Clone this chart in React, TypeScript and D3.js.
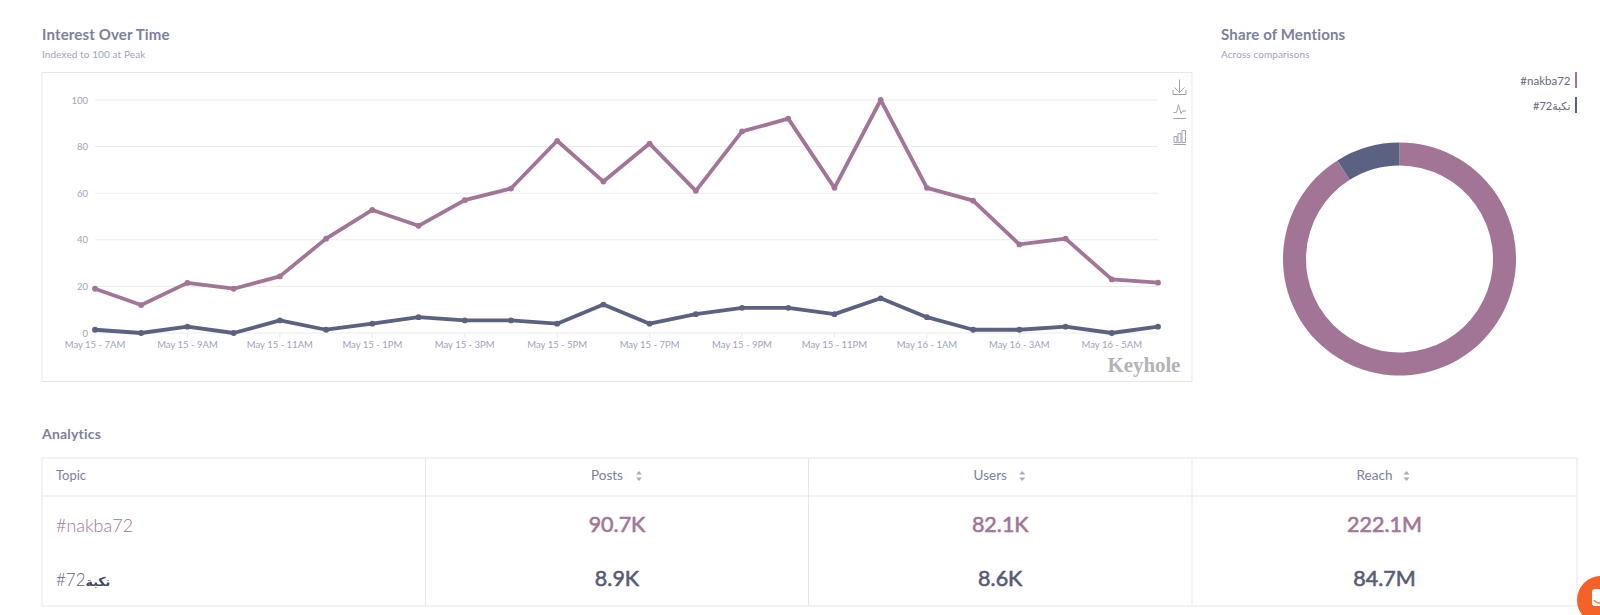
import React from "react";
import * as d3 from "d3";

const purple = [19, 12, 21.5, 19, 24.3, 40.5, 52.8, 46, 57, 62, 82.5, 65, 81.3, 61, 86.5, 92, 62.3, 100, 62.3, 56.8, 38, 40.5, 23, 21.6];
const dark = [1.4, 0, 2.7, 0, 5.4, 1.4, 4, 6.8, 5.4, 5.4, 4, 12.2, 4, 8.1, 10.8, 10.8, 8.1, 14.9, 6.8, 1.4, 1.4, 2.7, 0, 2.7];
const xLabels = ["May 15 - 7AM", "May 15 - 9AM", "May 15 - 11AM", "May 15 - 1PM", "May 15 - 3PM", "May 15 - 5PM", "May 15 - 7PM", "May 15 - 9PM", "May 15 - 11PM", "May 16 - 1AM", "May 16 - 3AM", "May 16 - 5AM"];
const yTicks = [0, 20, 40, 60, 80, 100];
const topics = ["#nakba72", "#72نكبة"];
const shares = [90.7, 8.9];
const headers = ["Posts", "Users", "Reach"];
const row1 = ["90.7K", "82.1K", "222.1M"];
const row2 = ["8.9K", "8.6K", "84.7M"];

const PURPLE = "#a27596";
const DARK = "#5b6180";
const DARKTEXT = "#575b76";
const TITLE = "#7c809f";
const SUB = "#a0a3b8";
const GRID = "#e9ebef";
const BORDER = "#e6e7ea";
const FONT = "Lato, 'DejaVu Sans', sans-serif";

const x = d3.scaleLinear().domain([0, 23]).range([95, 1158]);
const y = d3.scaleLinear().domain([0, 100]).range([333, 100]);
const line = d3.line<number>().x((_, i) => x(i)).y((d) => y(d));
const pie = d3.pie<number>().sort(null)(shares);
const arc = d3.arc<d3.PieArcDatum<number>>().innerRadius(93.5).outerRadius(116.5);
const colX = [42, 425.5, 808.5, 1192, 1577];

function Sorter({ x: sx, y: sy }: { x: number; y: number }) {
  return (
    <g fill="#a9adc0">
      <path d={`M${sx - 3},${sy - 1.5}L${sx + 3},${sy - 1.5}L${sx},${sy - 5}Z`} />
      <path d={`M${sx - 3},${sy + 1.5}L${sx + 3},${sy + 1.5}L${sx},${sy + 5}Z`} />
    </g>
  );
}

export default function App() {
  return (
    <svg width={1600} height={615} style={{ position: "absolute", left: 0, top: 0, background: "#fff" }} fontFamily={FONT}>
      <text x={42} y={40} fontSize={15} fontWeight={700} letterSpacing={0.15} fill={TITLE}>Interest Over Time</text>
      <text x={42} y={58} fontSize={10} fill={SUB} letterSpacing={0.1}>Indexed to 100 at Peak</text>
      <rect x={42} y={72.5} width={1150} height={309} fill="#fff" stroke={BORDER} />

      {yTicks.map((t) => (
        <g key={t}>
          <line x1={x(0)} x2={x(23)} y1={y(t)} y2={y(t)} stroke={GRID} />
          <text x={88} y={y(t) + 3.5} fontSize={9.5} textAnchor="end" fill={SUB}>{t}</text>
        </g>
      ))}
      {xLabels.map((l, i) => (
        <g key={l}>
          <line x1={x(i * 2)} x2={x(i * 2)} y1={333} y2={338} stroke={GRID} />
          <text x={x(i * 2)} y={348} fontSize={9.5} textAnchor="middle" fill={SUB}>{l}</text>
        </g>
      ))}
      <path d={line(purple)!} fill="none" stroke={PURPLE} strokeWidth={3.8} strokeLinejoin="round" />
      <path d={line(dark)!} fill="none" stroke={DARK} strokeWidth={3.8} strokeLinejoin="round" />
      {purple.map((d, i) => <circle key={i} cx={x(i)} cy={y(d)} r={2.9} fill={PURPLE} />)}
      {dark.map((d, i) => <circle key={i} cx={x(i)} cy={y(d)} r={2.9} fill={DARK} />)}

      <g fill="none" stroke="#a2a4af" strokeWidth={1}>
        <path d="M1179.500,79.500V92.500M1174.500,87.500L1179.500,92.500L1184.500,87.500M1173,90V94.500H1186V90" />
        <path d="M1173.500,112.500H1176.500L1178.500,104.500L1181,113.500L1182.500,111H1186M1173.500,118.500H1186" />
        <path d="M1174,136.500h3v6h-3zM1178,133.500h3v9h-3zM1182,130.500h3.500v12h-3.500zM1173.500,144.500H1186" />
      </g>
      <text x={1182} y={372} fontSize={21} fontWeight={700} fontFamily="'Liberation Serif', serif" textAnchor="end" fill="#b3b3b6" letterSpacing={-0.1}>Keyhole<tspan fontSize={7} fontWeight={400}>.</tspan></text>

      <text x={1221} y={40} fontSize={15} fontWeight={700} letterSpacing={0.15} fill={TITLE}>Share of Mentions</text>
      <text x={1221} y={58} fontSize={10} fill={SUB} letterSpacing={0.1}>Across comparisons</text>
      {topics.map((t, i) => (
        <g key={i}>
          <text x={1570.500} y={85 + i * 25} fontSize={i === 0 ? 11.500 : 11} textAnchor="end" fill="#666979">{t}</text>
          <rect x={1575} y={72 + i * 25} width={2} height={16} fill={i === 0 ? PURPLE : DARK} />
        </g>
      ))}
      <g transform="translate(1399.500,259)">
        {pie.map((p, i) => <path key={i} d={arc(p)!} fill={i === 0 ? PURPLE : DARK} />)}
      </g>

      <text x={42} y={439} fontSize={14} fontWeight={700} letterSpacing={0.2} fill={TITLE}>Analytics</text>
      <rect x={42} y={458} width={1535} height={148} fill="none" stroke={BORDER} />
      <line x1={42} x2={1577} y1={496} y2={496} stroke={BORDER} />
      {colX.slice(1, 4).map((c) => <line key={c} x1={c} x2={c} y1={458} y2={606} stroke={BORDER} />)}
      <text x={56} y={480} fontSize={13} fill={TITLE}>Topic</text>
      {headers.map((h, i) => {
        const cx = (colX[i + 1] + colX[i + 2]) / 2;
        return (
          <g key={h}>
            <text x={cx - 10} y={480} fontSize={13.500} textAnchor="middle" fill={TITLE}>{h}</text>
            <Sorter x={cx + 22} y={476} />
          </g>
        );
      })}
      <text x={56} y={532} fontSize={18} fontWeight={300} fill={PURPLE}>{topics[0]}</text>
      <text x={56} y={586} fontSize={17} fontWeight={300} fill={DARK} direction="ltr">
        <tspan>#72</tspan><tspan fontWeight={700} fontSize={12.500} fill="#44465c" fontFamily="'DejaVu Sans'">نكبة</tspan>
      </text>
      {row1.map((v, i) => (
        <text key={v} x={(colX[i + 1] + colX[i + 2]) / 2} y={532} fontSize={21.500} fontWeight={400} stroke={PURPLE} strokeWidth={0.6} textAnchor="middle" fill={PURPLE}>{v}</text>
      ))}
      {row2.map((v, i) => (
        <text key={v} x={(colX[i + 1] + colX[i + 2]) / 2} y={586} fontSize={21.500} fontWeight={400} stroke={DARKTEXT} strokeWidth={0.6} textAnchor="middle" fill={DARKTEXT}>{v}</text>
      ))}
      <circle cx={1601} cy={600} r={24} fill="#f4622a" />
      <rect x={1592} y={589} width={12} height={17} rx={3} fill="#fff" />
      <path d="M1594,600Q1597,604 1601,603" fill="none" stroke="#f4622a" strokeWidth={1.2} />
    </svg>
  );
}
